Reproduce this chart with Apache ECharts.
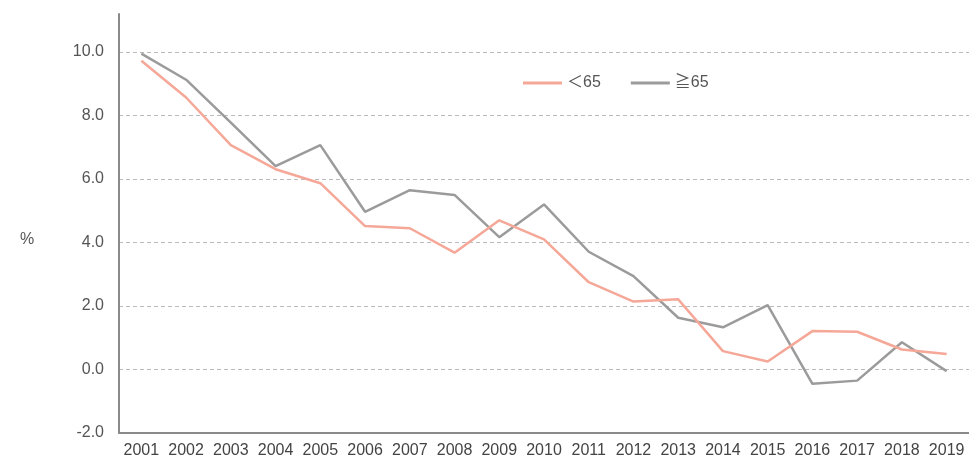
<!DOCTYPE html>
<html>
<head>
<meta charset="utf-8">
<script src="https://cdn.jsdelivr.net/npm/echarts@6/dist/echarts.min.js"></script>
<style>html,body{margin:0;padding:0;background:#fff;}#c{width:969px;height:460px;}</style>
</head>
<body>
<div id="c"></div>
<script>
const years = ['2001','2002','2003','2004','2005','2006','2007','2008','2009','2010','2011','2012','2013','2014','2015','2016','2017','2018','2019'];
const under65 = [9.73, 8.57, 7.07, 6.31, 5.87, 4.52, 4.45, 3.68, 4.70, 4.10, 2.75, 2.14, 2.21, 0.58, 0.25, 1.21, 1.19, 0.63, 0.49];
const over65 = [9.95, 9.13, 7.78, 6.41, 7.07, 4.97, 5.65, 5.50, 4.17, 5.20, 3.71, 2.94, 1.63, 1.33, 2.03, -0.45, -0.35, 0.86, -0.05];
const seriesNames = ['＜65', '≧65'];
const yUnit = '%';

const font = "'Liberation Sans', 'Noto Sans CJK JP', sans-serif";
const chart = echarts.init(document.getElementById('c'), null, {renderer: 'canvas'});
chart.setOption({
  animation: false,
  backgroundColor: '#fff',
  textStyle: {fontFamily: font},
  title: {text: yUnit, left: 15, top: 227, textStyle: {fontSize: 16, fontWeight: 'normal', color: '#555', fontFamily: font}},
  legend: {
    data: seriesNames,
    left: 518, top: 70,
    icon: 'rect',
    itemWidth: 39, itemHeight: 3, itemGap: 30,
    textStyle: {fontSize: 16, color: '#555', fontFamily: font}
  },
  grid: {left: 119, right: -2, top: 14, bottom: 27, containLabel: false},
  xAxis: {
    type: 'category', data: years, boundaryGap: true,
    axisLine: {onZero: false, lineStyle: {color: '#8a8a8a', width: 2}},
    axisTick: {show: false},
    axisLabel: {fontSize: 16, color: '#444', margin: 10, interval: 0, fontFamily: font}
  },
  yAxis: {
    type: 'value', min: -2, max: 11.2, interval: 2,
    axisLine: {show: true, onZero: false, lineStyle: {color: '#8a8a8a', width: 2}},
    axisTick: {show: false},
    axisLabel: {fontSize: 16, color: '#555', margin: 15, showMaxLabel: false, fontFamily: font,
      formatter: v => v.toFixed(1)},
    splitLine: {show: true, lineStyle: {type: [4, 3], width: 1,
      color: ['#bbb','#bbb','#bbb','#bbb','#bbb','#bbb','#bbb','rgba(0,0,0,0)']}}
  },
  series: [
    {name: seriesNames[1], type: 'line', data: over65, symbol: 'none', z: 2,
      lineStyle: {color: '#9b9b9b', width: 2.5}, itemStyle: {color: '#9b9b9b'}},
    {name: seriesNames[0], type: 'line', data: under65, symbol: 'none', z: 3,
      lineStyle: {color: '#f5a798', width: 2.5}, itemStyle: {color: '#f5a798'}}
  ]
});
</script>
</body>
</html>
